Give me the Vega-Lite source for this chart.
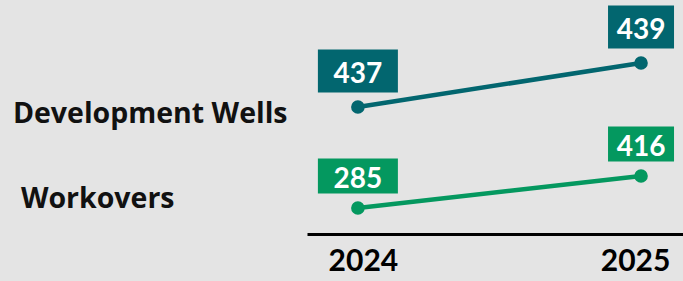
{
  "$schema": "https://vega.github.io/schema/vega-lite/v6.json",
  "width": 376,
  "height": 234,
  "autosize": "none",
  "padding": {"left": 307, "top": 0, "right": 0, "bottom": 47},
  "background": "#e4e4e4",
  "config": {"view": {"stroke": null}, "font": "Lato"},
  "data": {"values": [
    {"series": "Development Wells", "year": "2024", "value": 437},
    {"series": "Development Wells", "year": "2025", "value": 439},
    {"series": "Workovers", "year": "2024", "value": 285},
    {"series": "Workovers", "year": "2025", "value": 416}
  ]},
  "encoding": {
    "x": {
      "field": "year", "type": "ordinal",
      "scale": {"type": "point", "padding": 0.164, "align": 0.548},
      "axis": {
        "title": null, "labelAngle": 0, "ticks": false, "grid": false,
        "domainColor": "#000000", "domainWidth": 3,
        "labelFont": "Lato", "labelFontSize": 30, "labelFontWeight": "bold",
        "labelColor": "#000000", "labelPadding": 12,
        "labelOffset": {"condition": {"test": "datum.value === '2024'", "value": 5}, "value": -6}
      }
    }
  },
  "layer": [
    {
      "transform": [{"filter": "datum.series === 'Development Wells'"}],
      "encoding": {
        "y": {"field": "value", "type": "quantitative",
              "scale": {"domain": [431.23, 441.86], "zero": false, "nice": false}, "axis": null}
      },
      "layer": [
        {"mark": {"type": "line", "color": "#02666f", "strokeWidth": 4.5}},
        {"mark": {"type": "point", "filled": true, "opacity": 1, "color": "#02666f", "size": 185}},
        {"transform": [{"filter": "datum.year === '2024'"}],
         "mark": {"type": "rect", "color": "#02666f", "width": 80, "height": 43, "yOffset": -36}},
        {"transform": [{"filter": "datum.year === '2025'"}],
         "mark": {"type": "rect", "color": "#02666f", "width": 66, "height": 43, "yOffset": -36}},
        {"mark": {"type": "text", "color": "#ffffff", "font": "Lato", "fontWeight": "bold", "fontSize": 28,
                  "baseline": "alphabetic", "yOffset": -24},
         "encoding": {"text": {"field": "value", "type": "quantitative"}}},
        {"transform": [{"filter": "datum.year === '2024'"}],
         "mark": {"type": "text", "color": "#111111", "font": "Open Sans", "fontWeight": "bold", "fontSize": 28.5,
                  "align": "left", "baseline": "alphabetic", "xOffset": -345, "yOffset": 16},
         "encoding": {"text": {"field": "series", "type": "nominal"}}}
      ]
    },
    {
      "transform": [{"filter": "datum.series === 'Workovers'"}],
      "encoding": {
        "y": {"field": "value", "type": "quantitative",
              "scale": {"domain": [178.6, 1136.5], "zero": false, "nice": false}, "axis": null}
      },
      "layer": [
        {"mark": {"type": "line", "color": "#04985f", "strokeWidth": 4.5}},
        {"mark": {"type": "point", "filled": true, "opacity": 1, "color": "#04985f", "size": 185}},
        {"transform": [{"filter": "datum.year === '2024'"}],
         "mark": {"type": "rect", "color": "#04985f", "width": 80, "height": 35, "yOffset": -32}},
        {"transform": [{"filter": "datum.year === '2025'"}],
         "mark": {"type": "rect", "color": "#04985f", "width": 66, "height": 35, "yOffset": -32}},
        {"mark": {"type": "text", "color": "#ffffff", "font": "Lato", "fontWeight": "bold", "fontSize": 28,
                  "baseline": "alphabetic", "yOffset": -20},
         "encoding": {"text": {"field": "value", "type": "quantitative"}}},
        {"transform": [{"filter": "datum.year === '2024'"}],
         "mark": {"type": "text", "color": "#111111", "font": "Open Sans", "fontWeight": "bold", "fontSize": 28.5,
                  "align": "left", "baseline": "alphabetic", "xOffset": -337, "yOffset": 0},
         "encoding": {"text": {"field": "series", "type": "nominal"}}}
      ]
    }
  ],
  "resolve": {"scale": {"y": "independent"}}
}
